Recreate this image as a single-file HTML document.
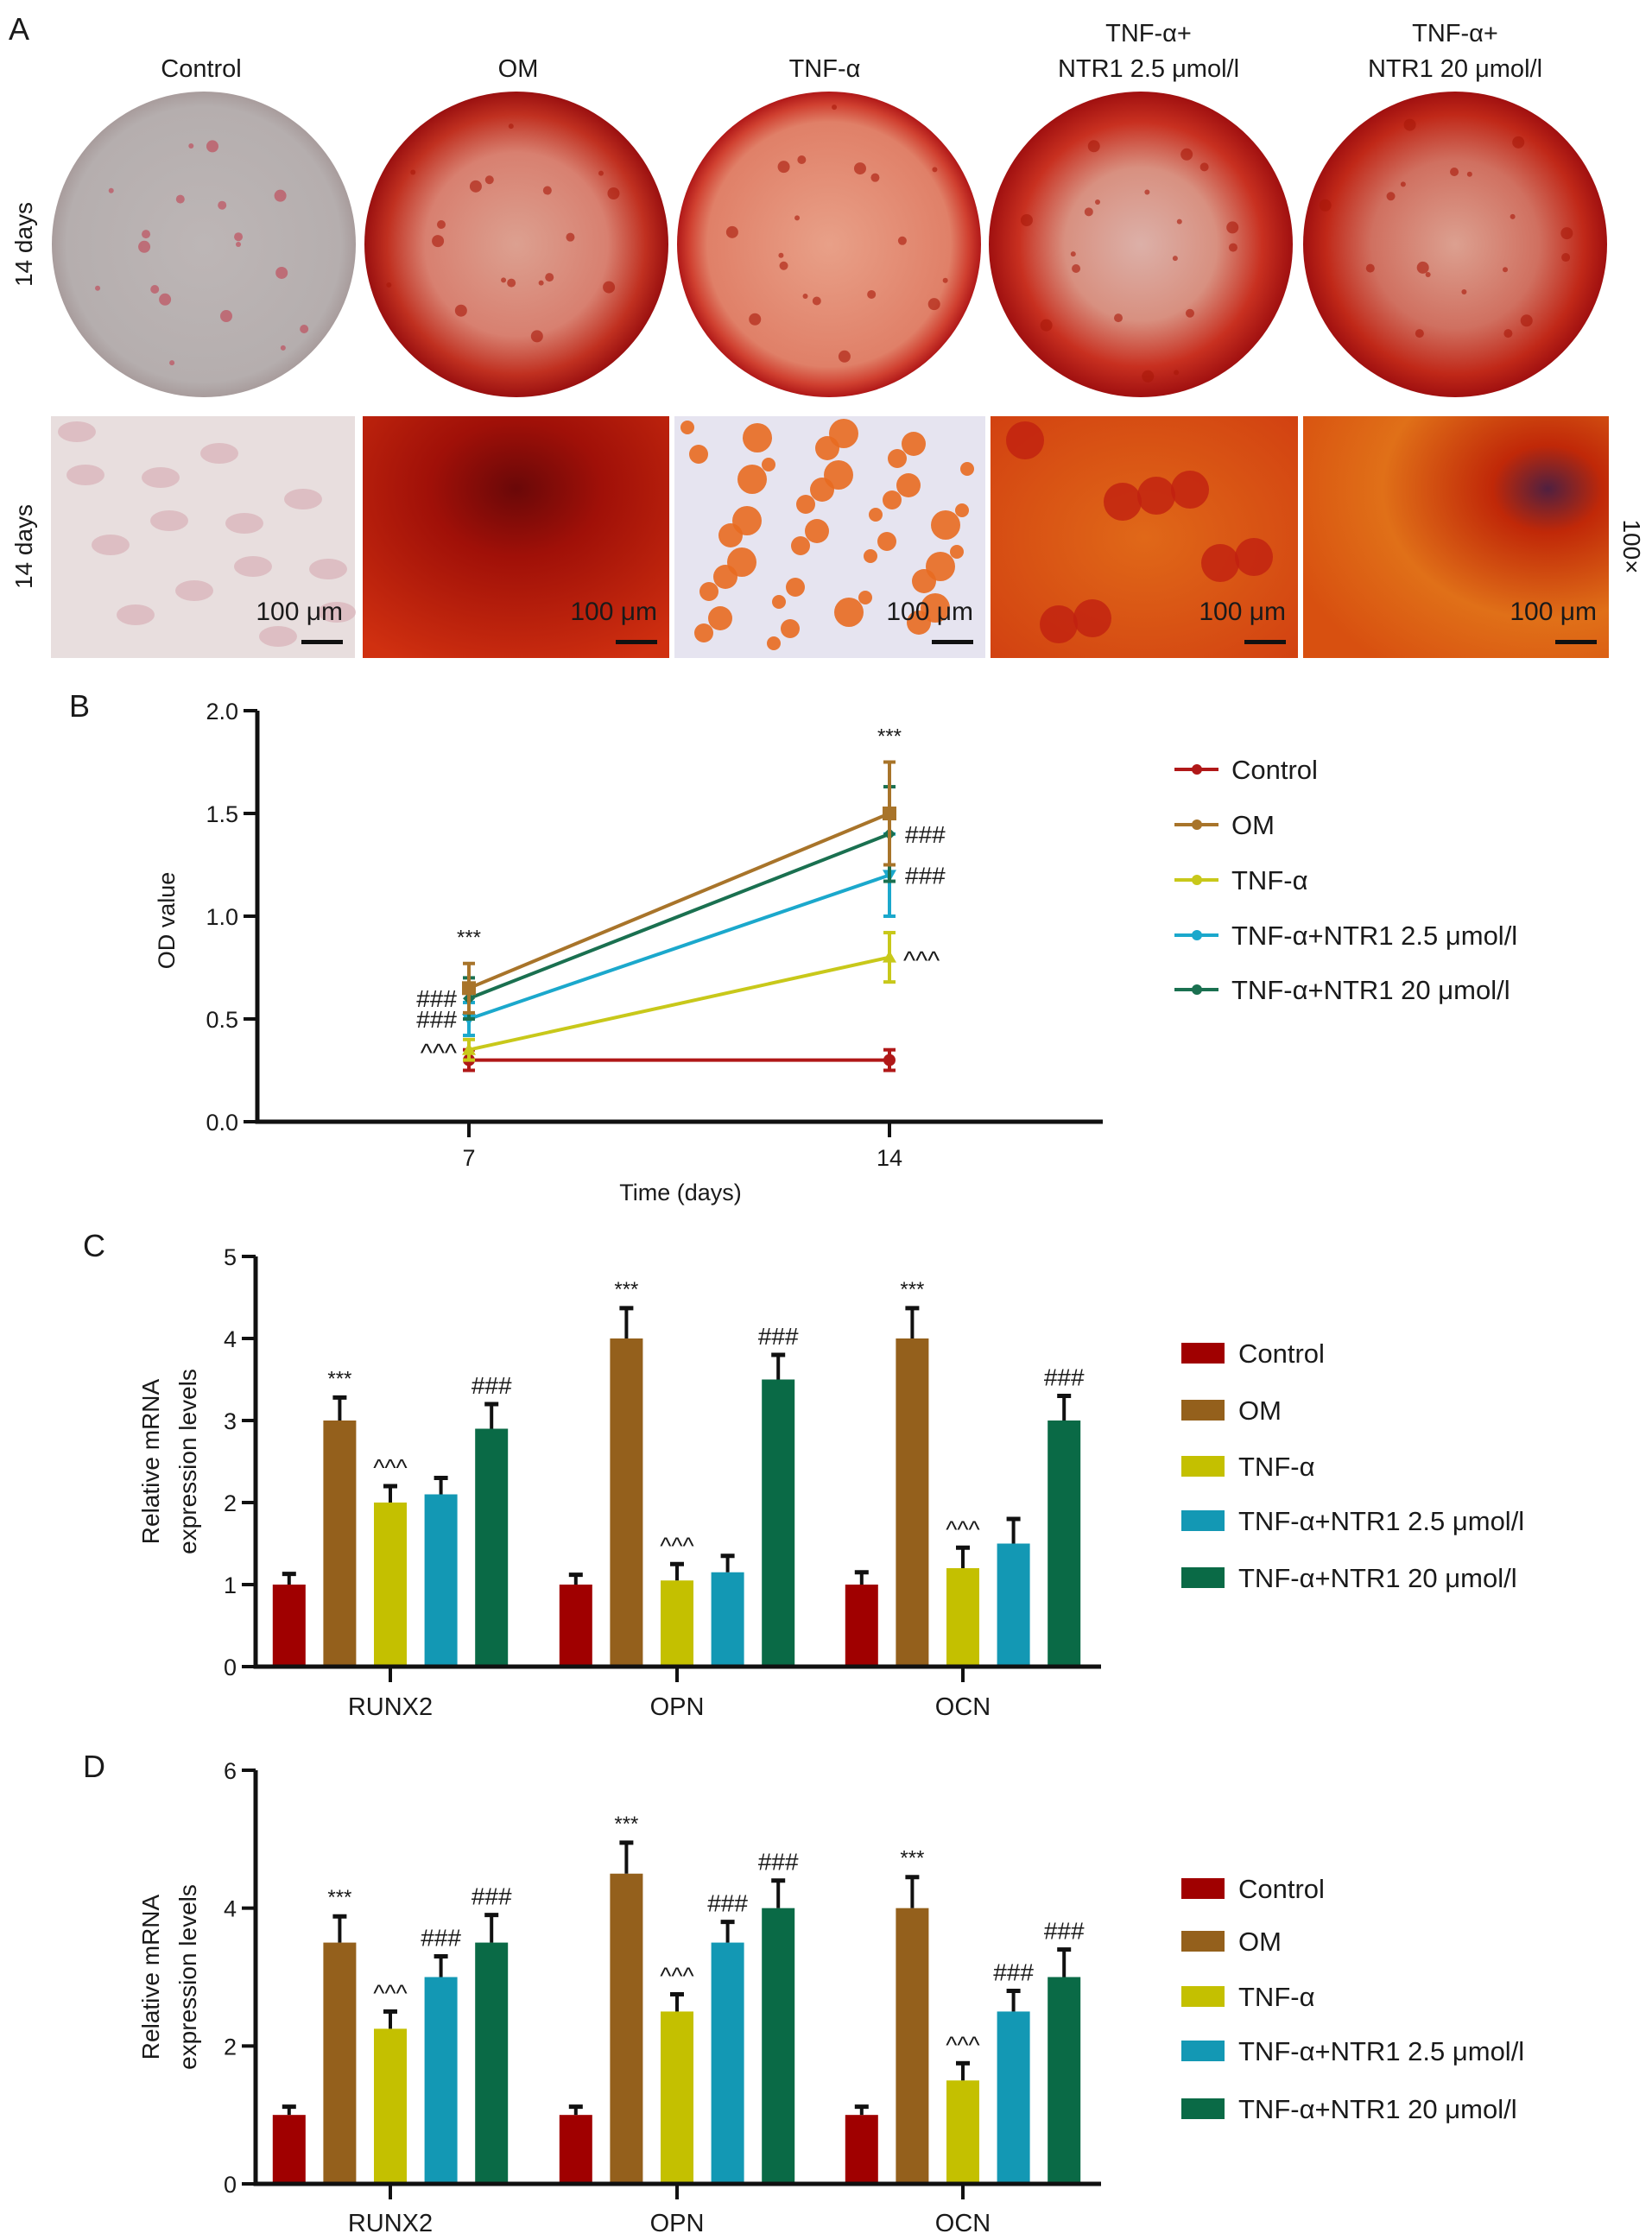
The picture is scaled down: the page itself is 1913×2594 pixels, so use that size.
<!DOCTYPE html>
<html><head><meta charset="utf-8"><style>
body{margin:0;background:#fff}
svg{display:block}
text{font-family:"Liberation Sans",Arial,sans-serif;fill:#1a1a1a}
</style></head><body>
<svg id="fig" width="1913" height="2594" viewBox="0 0 1913 2594" xmlns="http://www.w3.org/2000/svg">
<defs>
<radialGradient id="gCtrl"><stop offset="0" stop-color="#bdb6b6"/><stop offset="0.9" stop-color="#b5aeae"/><stop offset="1" stop-color="#a89c9c"/></radialGradient>
<radialGradient id="gOM"><stop offset="0" stop-color="#dca090"/><stop offset="0.6" stop-color="#d88070"/><stop offset="0.85" stop-color="#c03020"/><stop offset="1" stop-color="#9a1010"/></radialGradient>
<radialGradient id="gTNF"><stop offset="0" stop-color="#e8a088"/><stop offset="0.8" stop-color="#e08068"/><stop offset="0.92" stop-color="#d04030"/><stop offset="1" stop-color="#b01818"/></radialGradient>
<radialGradient id="gN25"><stop offset="0" stop-color="#dcb0a8"/><stop offset="0.5" stop-color="#d89080"/><stop offset="0.8" stop-color="#c83020"/><stop offset="1" stop-color="#a01010"/></radialGradient>
<radialGradient id="gN20"><stop offset="0" stop-color="#dca090"/><stop offset="0.55" stop-color="#d07060"/><stop offset="0.85" stop-color="#c02818"/><stop offset="1" stop-color="#a01010"/></radialGradient>
<radialGradient id="mOM" cx="0.5" cy="0.3" r="0.8"><stop offset="0" stop-color="#6a0808"/><stop offset="0.35" stop-color="#a01008"/><stop offset="1" stop-color="#d03010"/></radialGradient>
<radialGradient id="mN20" cx="0.8" cy="0.3" r="0.9"><stop offset="0" stop-color="#502040"/><stop offset="0.2" stop-color="#c02808"/><stop offset="0.6" stop-color="#e07018"/><stop offset="1" stop-color="#d85010"/></radialGradient>
<radialGradient id="mN25" cx="0.5" cy="0.5" r="0.8"><stop offset="0" stop-color="#e06818"/><stop offset="1" stop-color="#d03c10"/></radialGradient>
</defs>
<g id="panelA"></g>
<g id="panelB"></g>
<g id="panelC"></g>
<g id="panelD"></g>
</svg>
<script>
const NS="http://www.w3.org/2000/svg";
function mk(parent,tag,attrs,txt){const e=document.createElementNS(NS,tag);for(const k in attrs)e.setAttribute(k,attrs[k]);if(txt!==undefined)e.textContent=txt;parent.appendChild(e);return e;}

// ---------- Data ----------
const groupNames=["Control","OM","TNF-α","TNF-α+NTR1 2.5 μmol/l","TNF-α+NTR1 20 μmol/l"];
const lineColors=["#b01818","#a8742a","#c8c81a","#1ba8cc","#1a7050"];
const barColors=["#a00000","#94601c","#c4c000","#1398b4","#0a6a46"];

const odDays=["7","14"];
const odTicks=[0,0.5,1.0,1.5,2.0];
const odControl=[0.3,0.3];
const odOM=[0.65,1.5];
const odTNF=[0.35,0.8];
const odN25=[0.5,1.2];
const odN20=[0.6,1.4];
const odErrControl=[0.05,0.05];
const odErrOM=[0.12,0.25];
const odErrTNF=[0.05,0.12];
const odErrN25=[0.08,0.2];
const odErrN20=[0.1,0.23];

const genes=["RUNX2","OPN","OCN"];
const cTicks=[0,1,2,3,4,5];
const cControl=[1,1,1];
const cOM=[3,4,4];
const cTNF=[2,1.05,1.2];
const cN25=[2.1,1.15,1.5];
const cN20=[2.9,3.5,3.0];
const cErrControl=[0.13,0.12,0.15];
const cErrOM=[0.28,0.37,0.37];
const cErrTNF=[0.2,0.2,0.25];
const cErrN25=[0.2,0.2,0.3];
const cErrN20=[0.3,0.3,0.3];
const cMarks=[["","***","^^^","","###"],["","***","^^^","","###"],["","***","^^^","","###"]];

const dTicks=[0,2,4,6];
const dControl=[1,1,1];
const dOM=[3.5,4.5,4];
const dTNF=[2.25,2.5,1.5];
const dN25=[3.0,3.5,2.5];
const dN20=[3.5,4.0,3.0];
const dErrControl=[0.12,0.12,0.12];
const dErrOM=[0.38,0.45,0.45];
const dErrTNF=[0.25,0.25,0.25];
const dErrN25=[0.3,0.3,0.3];
const dErrN20=[0.4,0.4,0.4];
const dMarks=[["","***","^^^","###","###"],["","***","^^^","###","###"],["","***","^^^","###","###"]];

// ---------- Panel A ----------
(function(){
  const g=document.getElementById('panelA');
  let t=mk(g,'text',{x:10,y:46,'font-size':36});t.textContent='A';
  
  const cx=[233,600,955,1330,1685];
  const titles=[["Control"],["OM"],["TNF-α"],["TNF-α+","NTR1 2.5 μmol/l"],["TNF-α+","NTR1 20 μmol/l"]];
  titles.forEach((lines,i)=>{
    lines.forEach((s,j)=>{
      const y=lines.length===1?89:(j===0?48:89);
      const e=mk(g,'text',{x:cx[i],y:y,'font-size':29,'text-anchor':'middle'},s);
      
    });
  });
  const pcx=[236,598,960,1321,1685];
  const grads=["gCtrl","gOM","gTNF","gN25","gN20"];
  pcx.forEach((x,i)=>{
    const c=mk(g,'ellipse',{cx:x,cy:283,rx:176,ry:177,fill:'url(#'+grads[i]+')'});
    
    for(let k=0;k<18;k++){
      const a=k*2.4+i, r=40+((k*37+i*13)%120);
      mk(g,'circle',{cx:x+Math.cos(a)*r,cy:283+Math.sin(a)*r,r:3+(k%3)*2,fill:i===0?'#c04050':'#a81808',opacity:0.6});
    }
  });
  const mx=[[59,411],[420,775],[781,1141],[1147,1503],[1509,1863]];
  const mfill=["#e8dede","url(#mOM)","#e6e4f0","url(#mN25)","url(#mN20)"];
  mx.forEach((r,i)=>{
    const e=mk(g,'rect',{x:r[0],y:482,width:r[1]-r[0],height:280,fill:mfill[i]});
    
    if(i===0){for(let k=0;k<14;k++)mk(g,'ellipse',{cx:r[0]+30+(k*97)%320,cy:500+(k*53)%240,rx:22,ry:12,fill:'#d8b0b8',opacity:0.7});}
    if(i===2){for(let k=0;k<40;k++)mk(g,'circle',{cx:r[0]+15+(k*137)%330,cy:495+(k*89)%255,r:8+(k%4)*3,fill:'#e86a20',opacity:0.9});}
    if(i===3){for(let k=0;k<8;k++)mk(g,'circle',{cx:r[0]+40+(k*113)%300,cy:510+(k*71)%220,r:22,fill:'#c02010',opacity:0.8});}
    const lb=mk(g,'text',{x:r[1]-14,y:718,'font-size':30,'text-anchor':'end'},'100 μm');
    
    mk(g,'rect',{x:r[1]-62,y:741,width:48,height:5,fill:'#111'});
  });
  [283,633].forEach(y=>{
    const e=mk(g,'text',{x:0,y:0,'font-size':28,'text-anchor':'middle','transform':'translate(37,'+y+') rotate(-90)'},'14 days');
    
  });
  const m=mk(g,'text',{x:0,y:0,'font-size':28,'text-anchor':'middle','transform':'translate(1880,633) rotate(90)'},'100×');
  
})();

// ---------- Panel B ----------
(function(){
  const g=document.getElementById('panelB');
  const X0=298,XR=1277,Y0=1299,Ytop=823;
  const yS=v=>Y0-(v/2.0)*(Y0-Ytop);
  const xPos=[543,1030];
  const xS=i=>xPos[0]+(xPos[1]-xPos[0])*i/(odDays.length-1);
  let t=mk(g,'text',{x:80,y:830,'font-size':36},'B');
  
  const ax=mk(g,'path',{d:`M${X0},${Ytop} V${Y0} H${XR}`,stroke:'#111','stroke-width':5,fill:'none'});
  
  odTicks.forEach(v=>{
    mk(g,'line',{x1:X0-16,x2:X0,y1:yS(v),y2:yS(v),stroke:'#111','stroke-width':4});
    const e=mk(g,'text',{x:X0-22,y:yS(v)+10,'font-size':27,'text-anchor':'end'},v.toFixed(1));
    
  });
  odDays.forEach((d,i)=>{
    mk(g,'line',{x1:xS(i),x2:xS(i),y1:Y0,y2:Y0+18,stroke:'#111','stroke-width':4});
    const e=mk(g,'text',{x:xS(i),y:1350,'font-size':27,'text-anchor':'middle'},d);
    
  });
  let e=mk(g,'text',{x:788,y:1390,'font-size':27,'text-anchor':'middle'},'Time (days)');
  
  e=mk(g,'text',{x:0,y:0,'font-size':27,'text-anchor':'middle',transform:'translate(202,1066) rotate(-90)'},'OD value');
  
  const series=[odControl,odOM,odTNF,odN25,odN20];
  const errs=[odErrControl,odErrOM,odErrTNF,odErrN25,odErrN20];
  function marker(x,y,s){
    const c=lineColors[s];
    if(s===0) return mk(g,'circle',{cx:x,cy:y,r:7,fill:c});
    if(s===1) return mk(g,'rect',{x:x-8,y:y-8,width:16,height:16,fill:c});
    if(s===2) return mk(g,'polygon',{points:`${x},${y-8} ${x-8},${y+6} ${x+8},${y+6}`,fill:c});
    if(s===3) return mk(g,'polygon',{points:`${x},${y+8} ${x-8},${y-6} ${x+8},${y-6}`,fill:c});
    return mk(g,'polygon',{points:`${x},${y-7} ${x+7},${y} ${x},${y+7} ${x-7},${y}`,fill:c});
  }
  const order=[0,2,3,4,1];
  order.forEach(s=>{
    const vals=series[s];
    const pts=vals.map((v,i)=>xS(i)+','+yS(v)).join(' ');
    const pl=mk(g,'polyline',{points:pts,stroke:lineColors[s],'stroke-width':4,fill:'none'});
    
    vals.forEach((v,i)=>{
      const x=xS(i),er=errs[s][i];
      mk(g,'line',{x1:x,x2:x,y1:yS(v-er),y2:yS(v+er),stroke:lineColors[s],'stroke-width':4});
      mk(g,'line',{x1:x-7,x2:x+7,y1:yS(v-er),y2:yS(v-er),stroke:lineColors[s],'stroke-width':4});
      mk(g,'line',{x1:x-7,x2:x+7,y1:yS(v+er),y2:yS(v+er),stroke:lineColors[s],'stroke-width':4});
      const p=marker(x,yS(v),s);
      
    });
  });
  const ann=[[xS(0),yS(odOM[0]+odErrOM[0])-22,'middle','***',24],[xS(1),yS(odOM[1]+odErrOM[1])-22,'middle','***',24],
    [xS(0)-14,yS(odN20[0])+10,'end','###',28],[xS(0)-14,yS(odN25[0])+10,'end','###',28],[xS(0)-14,yS(odTNF[0])+14,'end','^^^',30],
    [xS(1)+18,yS(odN20[1])+10,'start','###',28],[xS(1)+18,yS(odN25[1])+10,'start','###',28],[xS(1)+16,yS(odTNF[1])+14,'start','^^^',30]];
  ann.forEach(a=>{const e=mk(g,'text',{x:a[0],y:a[1],'font-size':a[4],'text-anchor':a[2]},a[3]);
    });
  const ly=[891,955,1019,1083,1146];
  groupNames.forEach((n,i)=>{
    const lg=mk(g,'g',{});
    
    mk(lg,'line',{x1:1360,x2:1411,y1:ly[i],y2:ly[i],stroke:lineColors[i],'stroke-width':4});
    mk(lg,'circle',{cx:1386,cy:ly[i],r:6,fill:lineColors[i]});
    mk(lg,'text',{x:1426,y:ly[i]+11,'font-size':31},n);
  });
})();

// ---------- Bar panels ----------
function barPanel(id,label,labelY,ticks,yMax,Ytop,Y0,series,errs,marks,ly,catY){
  const g=document.getElementById(id);
  const X0=296,XR=1275;
  const yS=v=>Y0-(v/yMax)*(Y0-Ytop);
  const gc=[452,784,1115];
  const xS=(gi,s)=>gc[gi]+(s-2)*58.6;
  let t=mk(g,'text',{x:96,y:labelY,'font-size':36},label);
  
  series.forEach((vals,s)=>{
    vals.forEach((v,gi)=>{
      const x=xS(gi,s);
      const b=mk(g,'rect',{x:x-19,y:yS(v),width:38,height:Y0-yS(v),fill:barColors[s]});
      
      const er=errs[s][gi];
      mk(g,'line',{x1:x,x2:x,y1:yS(v),y2:yS(v+er),stroke:'#111','stroke-width':4});
      mk(g,'line',{x1:x-8,x2:x+8,y1:yS(v+er),y2:yS(v+er),stroke:'#111','stroke-width':5});
      const m=marks[gi][s];
      if(m){const e=mk(g,'text',{x:x,y:yS(v+er)-(m==='***'?14:12),'font-size':m==='***'?24:28,'text-anchor':'middle'},m);
        }
    });
  });
  const ax=mk(g,'path',{d:`M${X0},${Ytop} V${Y0} H${XR}`,stroke:'#111','stroke-width':5,fill:'none'});
  
  ticks.forEach(v=>{
    mk(g,'line',{x1:X0-16,x2:X0,y1:yS(v),y2:yS(v),stroke:'#111','stroke-width':4});
    const e=mk(g,'text',{x:X0-22,y:yS(v)+10,'font-size':27,'text-anchor':'end'},String(v));
    
  });
  genes.forEach((gn,i)=>{
    mk(g,'line',{x1:gc[i],x2:gc[i],y1:Y0,y2:Y0+18,stroke:'#111','stroke-width':4});
    const e=mk(g,'text',{x:gc[i],y:catY,'font-size':29,'text-anchor':'middle'},gn);
    
  });
  const cy=(Ytop+Y0)/2;
  let e=mk(g,'text',{x:0,y:0,'font-size':28,'text-anchor':'middle',transform:`translate(184,${cy}) rotate(-90)`},'Relative mRNA');
  
  e=mk(g,'text',{x:0,y:0,'font-size':28,'text-anchor':'middle',transform:`translate(227,${cy}) rotate(-90)`},'expression levels');
  
  groupNames.forEach((n,i)=>{
    const lg=mk(g,'g',{});
    
    mk(lg,'rect',{x:1368,y:ly[i]-12,width:50,height:24,fill:barColors[i]});
    mk(lg,'text',{x:1434,y:ly[i]+11,'font-size':31},n);
  });
}
barPanel('panelC','C',1455,cTicks,5,1455,1930,[cControl,cOM,cTNF,cN25,cN20],[cErrControl,cErrOM,cErrTNF,cErrN25,cErrN20],cMarks,[1567,1633,1698,1761,1827],1986);
barPanel('panelD','D',2058,dTicks,6,2050,2529,[dControl,dOM,dTNF,dN25,dN20],[dErrControl,dErrOM,dErrTNF,dErrN25,dErrN20],dMarks,[2187,2248,2312,2375,2442],2584);
</script>
</body></html>
